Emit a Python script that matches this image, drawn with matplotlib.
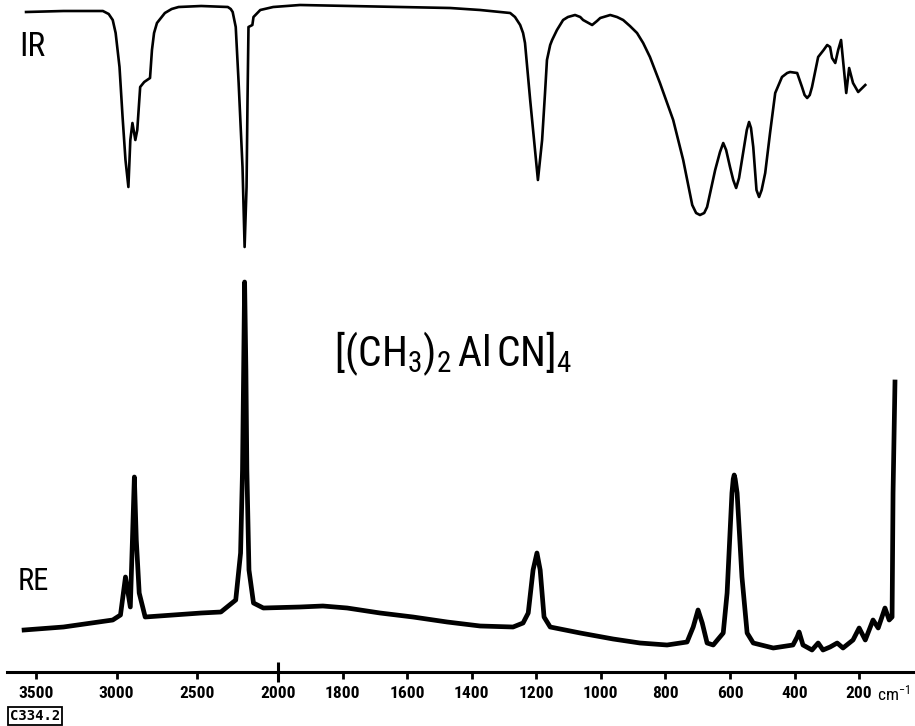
import matplotlib
matplotlib.use("Agg")
import matplotlib.pyplot as plt
import numpy as np
from matplotlib import font_manager
from matplotlib.ticker import FixedLocator, FixedFormatter, NullFormatter

# IR trace: wavenumber (cm-1) and absorption (arb. units, drawn downwards)
ir_wavenumber = [3561, 3329, 3085, 3049, 3024, 3006, 2982, 2963, 2945, 2927,
                 2915, 2902, 2884, 2872, 2854, 2829, 2793, 2781, 2768, 2750,
                 2701, 2659, 2616, 2476, 2311, 2293, 2281, 2262, 2244, 2220,
                 2207, 2195, 2189, 2183, 2159, 2152, 2110, 2030, 1932, 1777,
                 1622, 1467, 1374, 1281, 1266, 1250, 1241, 1235, 1219, 1204,
                 1195, 1182, 1173, 1167, 1157, 1151, 1136, 1117, 1102, 1080,
                 1064, 1055, 1027, 1012, 1002, 971, 950, 931, 910, 888,
                 869, 848, 817, 776, 745, 717, 705, 693, 680, 671,
                 646, 631, 621, 612, 600, 590, 581, 572, 563, 548,
                 541, 535, 528, 518, 510, 502, 491, 476, 460, 439,
                 423, 414, 392, 377, 369, 361, 353, 346, 327, 310,
                 299, 290, 284, 274, 265, 256, 250, 240, 231, 219,
                 203, 181]
ir_absorption = [12, 11, 11, 14, 20, 33, 67, 117, 160, 187,
                 140, 123, 140, 130, 87, 82, 78, 50, 33, 23,
                 13, 9, 7, 6, 7, 9, 12, 27, 83, 167,
                 247, 187, 100, 27, 25, 17, 10, 7, 5, 6,
                 7, 8, 10, 13, 17, 25, 33, 43, 100, 150,
                 180, 140, 93, 60, 45, 40, 30, 20, 17, 15,
                 17, 20, 25, 21, 18, 15, 17, 20, 26, 33,
                 43, 57, 83, 120, 160, 205, 213, 215, 213, 207,
                 170, 152, 143, 150, 167, 180, 188, 178, 160, 130,
                 122, 128, 147, 190, 197, 190, 173, 133, 93, 77,
                 73, 72, 73, 87, 95, 98, 95, 87, 57, 50,
                 45, 47, 58, 63, 50, 40, 60, 93, 68, 83,
                 92, 85]

# Raman trace: wavenumber (cm-1) and intensity (arb. units)
raman_wavenumber = [3573, 3329, 3024, 2976, 2945, 2915, 2902, 2890, 2878, 2860,
                    2823, 2476, 2354, 2262, 2232, 2220, 2213, 2207, 2199, 2193,
                    2180, 2152, 2091, 1932, 1861, 1786, 1684, 1582, 1476, 1374,
                    1272, 1241, 1225, 1210, 1198, 1188, 1176, 1157, 1064, 962,
                    879, 795, 733, 714, 699, 686, 671, 652, 621, 609,
                    594, 590, 587, 584, 578, 563, 547, 528, 466, 405,
                    392, 386, 374, 346, 327, 312, 290, 268, 250, 219,
                    200, 181, 157, 141, 120, 107, 98, 95, 89]
raman_intensity = [30, 33, 40, 45, 83, 53, 120, 183, 120, 67,
                   43, 47, 48, 60, 107, 190, 290, 378, 290, 190,
                   90, 57, 52, 53, 54, 52, 47, 43, 38, 34,
                   33, 37, 47, 90, 107, 90, 43, 33, 27, 21,
                   17, 15, 18, 33, 50, 37, 17, 15, 27, 67,
                   167, 181, 185, 181, 167, 83, 27, 17, 12, 15,
                   23, 28, 15, 10, 17, 10, 13, 17, 12, 20,
                   32, 20, 40, 32, 52, 40, 43, 167, 278]

tick_values = [3500, 3000, 2500, 2000, 1800, 1600, 1400, 1200,
               1000, 800, 600, 400, 200]
tick_labels = [str(v) for v in tick_values]


def pick_font():
    names = {f.name for f in font_manager.fontManager.ttflist}
    for name in ["Liberation Sans Narrow", "DejaVu Sans Condensed", "Roboto Condensed"]:
        if name in names:
            return name
    return "DejaVu Sans"


FONT = pick_font()
plt.rcParams["font.family"] = [FONT, "DejaVu Sans"]
plt.rcParams["mathtext.fontset"] = "custom"
plt.rcParams["mathtext.rm"] = FONT
plt.rcParams["mathtext.it"] = FONT


# scale: 3500-2000 compressed by a factor of two
def forward(w):
    w = np.asarray(w, dtype=float)
    return np.where(w > 2000, 2000 + (w - 2000) / 2, w)


def inverse(u):
    u = np.asarray(u, dtype=float)
    return np.where(u > 2000, 2000 + (u - 2000) * 2, u)


W, H = 915, 726
fig = plt.figure(figsize=(W / 100, H / 100), dpi=100)

ax_re = fig.add_axes([7 / W, 54 / H, 908 / W, 400 / H])
ax_ir = fig.add_axes([7 / W, 466 / H, 908 / W, 260 / H], sharex=ax_re)

for ax in (ax_re, ax_ir):
    ax.set_xscale("function", functions=(forward, inverse))
    ax.patch.set_alpha(0)
    for s in ax.spines.values():
        s.set_visible(False)
    ax.set_yticks([])

ax_re.set_xlim(3679, 27)
ax_ir.set_ylim(260, 0)
ax_re.set_ylim(-12, 388)

ax_ir.plot(ir_wavenumber, ir_absorption, color="black", lw=1.9,
           solid_joinstyle="round")
ax_re.plot(raman_wavenumber, raman_intensity, color="black", lw=3.4,
           solid_joinstyle="round")

ax_ir.tick_params(axis="x", which="both", bottom=False, labelbottom=False)

ax_re.spines["bottom"].set_visible(True)
ax_re.spines["bottom"].set_linewidth(2.2)
ax_re.xaxis.set_major_locator(FixedLocator(tick_values))
ax_re.xaxis.set_major_formatter(FixedFormatter(tick_labels))
ax_re.xaxis.set_minor_locator(FixedLocator([2000]))
ax_re.xaxis.set_minor_formatter(NullFormatter())
ax_re.xaxis.remove_overlapping_locs = False
ax_re.tick_params(axis="x", which="major", direction="out", length=5,
                  width=2.0, pad=5, labelsize=12.5)
ax_re.tick_params(axis="x", which="minor", direction="inout", length=14,
                  width=2.2)
for lbl in ax_re.get_xticklabels():
    lbl.set_fontweight("bold")

fig.text(32 / W, 1 - 47 / H, "IR", fontsize=24, ha="center", va="center")
fig.text(33 / W, 1 - 581 / H, "RE", fontsize=22, ha="center", va="center")
fig.text(453 / W, 1 - 366 / H, r"$[(\mathrm{CH}_3)_2\,\mathrm{Al\,CN}]_4$",
         fontsize=30, ha="center", va="baseline")
fig.text(877 / W, 1 - 693 / H, r"cm$^{-1}$", fontsize=12.5, ha="left", va="center")
fig.text(10 / W, 1 - 716 / H, "C334.2", fontsize=10, ha="left", va="center",
         family="DejaVu Sans Mono", fontweight="bold",
         bbox=dict(boxstyle="square,pad=0.15", fc="white", ec="black", lw=1.3))

fig.savefig("out.png", dpi=100)
